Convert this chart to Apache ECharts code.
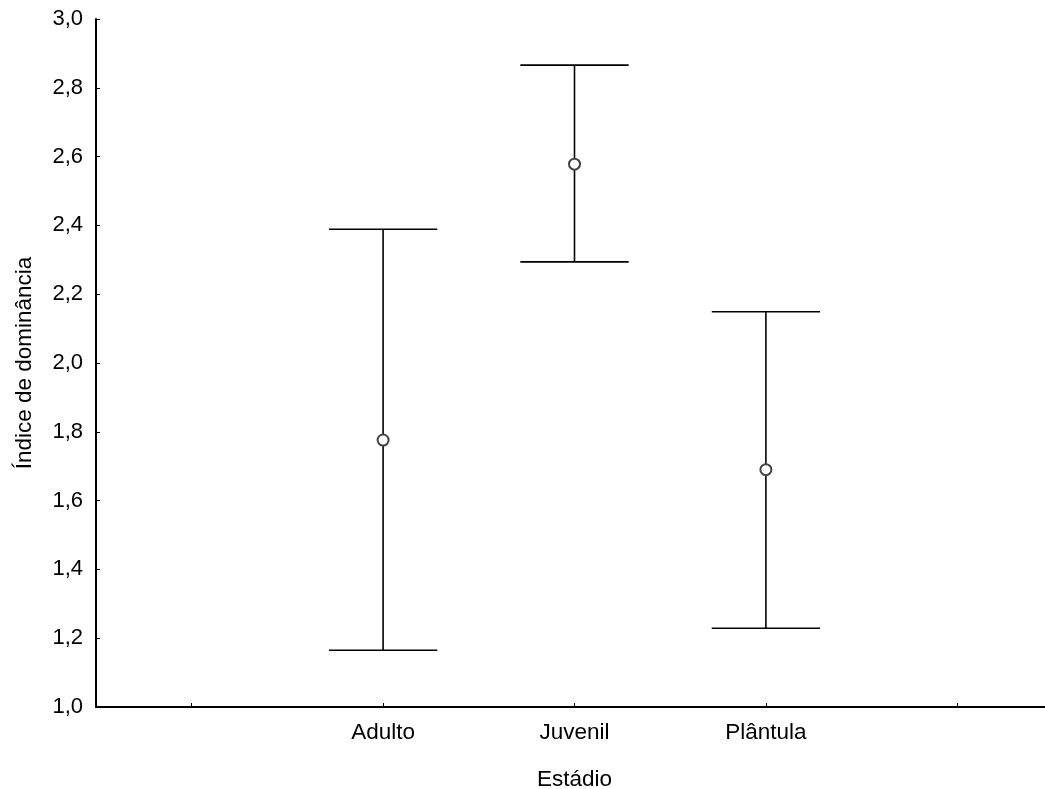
<!DOCTYPE html>
<html>
<head>
<meta charset="utf-8">
<script src="https://cdn.jsdelivr.net/npm/echarts@6/dist/echarts.min.js"></script>
<style>
html,body{margin:0;padding:0;background:#fff;}
#chart{width:1045px;height:789px;}
</style>
</head>
<body>
<div id="chart"></div>
<script>
// Data
const categories = ['Adulto', 'Juvenil', 'Plântula'];
const means = [1.776, 2.578, 1.690];
const lowerBounds = [1.165, 2.294, 1.229];
const upperBounds = [2.389, 2.866, 2.149];
const yTicks = { min: 1.0, max: 3.0, interval: 0.2 };
const xAxisTitle = 'Estádio';
const yAxisTitle = 'Índice de dominância';

// axis has an empty slot on each side of the three categories
const axisCategories = [''].concat(categories, ['']);

const FONT = '"Liberation Sans", Arial, sans-serif';
const chart = echarts.init(document.getElementById('chart'), null, { renderer: 'canvas' });

const errorData = categories.map((c, i) => [c, lowerBounds[i], upperBounds[i]]);
const meanData = categories.map((c, i) => [c, means[i]]);

chart.setOption({
  animation: false,
  backgroundColor: '#ffffff',
  grid: { left: 96, top: 19, bottom: 82, right: -8, containLabel: false, outerBoundsMode: 'none' },
  xAxis: {
    type: 'category',
    data: axisCategories,
    boundaryGap: true,
    name: xAxisTitle,
    nameLocation: 'middle',
    nameGap: 61,
    nameTextStyle: { fontFamily: FONT, fontSize: 22.5, color: '#000' },
    axisLine: { show: true, lineStyle: { color: '#000', width: 2 } },
    axisTick: { show: true, inside: true, length: 4, alignWithLabel: true, interval: 0, lineStyle: { color: '#000', width: 1 } },
    axisLabel: { interval: 0, margin: 14, fontFamily: FONT, fontSize: 22.5, color: '#000' },
    splitLine: { show: false }
  },
  yAxis: {
    type: 'value',
    min: yTicks.min,
    max: yTicks.max,
    interval: yTicks.interval,
    name: yAxisTitle,
    nameLocation: 'middle',
    nameGap: 60,
    nameTextStyle: { fontFamily: FONT, fontSize: 22.5, color: '#000' },
    axisLine: { show: true, lineStyle: { color: '#000', width: 2 } },
    axisTick: { show: true, inside: true, length: 4, lineStyle: { color: '#000', width: 1 } },
    axisLabel: {
      margin: 13, fontFamily: FONT, fontSize: 22, color: '#000',
      formatter: v => v.toFixed(1).replace('.', ',')
    },
    splitLine: { show: false }
  },
  series: [
    {
      type: 'custom',
      data: errorData,
      encode: { x: 0, y: [1, 2] },
      z: 2,
      renderItem: function (params, api) {
        const xi = api.value(0);
        const lo = api.coord([xi, api.value(1)]);
        const hi = api.coord([xi, api.value(2)]);
        const half = api.size([1, 0])[0] * 0.283;
        const st = { stroke: '#000', lineWidth: 1.6 };
        return {
          type: 'group',
          children: [
            { type: 'line', shape: { x1: hi[0], y1: hi[1], x2: lo[0], y2: lo[1] }, style: st },
            { type: 'line', shape: { x1: hi[0] - half, y1: hi[1], x2: hi[0] + half, y2: hi[1] }, style: st },
            { type: 'line', shape: { x1: lo[0] - half, y1: lo[1], x2: lo[0] + half, y2: lo[1] }, style: st }
          ]
        };
      }
    },
    {
      type: 'scatter',
      data: meanData,
      z: 5,
      symbol: 'circle',
      symbolSize: 11,
      itemStyle: { color: '#ffffff', borderColor: '#444', borderWidth: 2, opacity: 1 }
    }
  ]
});
</script>
</body>
</html>
